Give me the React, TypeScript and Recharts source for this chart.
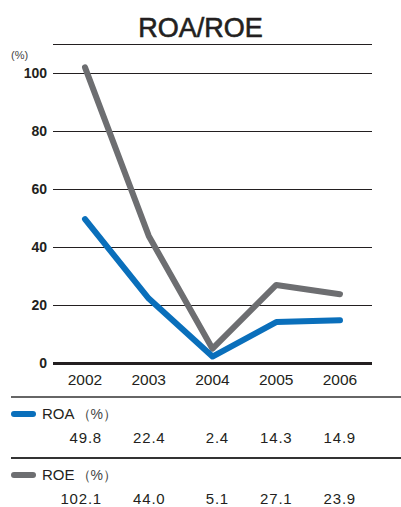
import React from "react";
import {
  LineChart,
  Line,
  XAxis,
  YAxis,
  CartesianGrid,
  ReferenceLine,
} from "recharts";

const years = ["2002", "2003", "2004", "2005", "2006"];
const roaValues = [49.8, 22.4, 2.4, 14.3, 14.9];
const roeValues = [102.1, 44.0, 5.1, 27.1, 23.9];
const yTicks = [0, 20, 40, 60, 80, 100];

const ROA_COLOR = "#0a6fbb";
const ROE_COLOR = "#6d6e71";
const FONT = '"Liberation Sans", Arial, Helvetica, sans-serif';

const data = years.map((year, i) => ({
  year,
  roa: roaValues[i],
  roe: roeValues[i],
}));

const rows = [
  { name: "ROA", color: ROA_COLOR, values: roaValues, top: 400 },
  { name: "ROE", color: ROE_COLOR, values: roeValues, top: 461 },
];

const fmt = (v: number) => v.toFixed(1);

export default function App() {
  return (
    <div
      style={{
        position: "absolute",
        left: 0,
        top: 0,
        width: 401,
        height: 507,
        fontFamily: FONT,
        color: "#231f20",
        background: "#fff",
      }}
    >
      <div
        style={{
          position: "absolute",
          top: 13,
          width: 401,
          textAlign: "center",
          fontSize: 27,
          fontWeight: "normal",
          WebkitTextStroke: "0.6px #231f20",
        }}
      >
        ROA/ROE
      </div>
      <div style={{ position: "absolute", left: 11, top: 49, fontSize: 11, color: "#444" }}>
        (%)
      </div>

      <LineChart
        width={401}
        height={507}
        data={data}
        margin={{ top: 44.5, right: 29, bottom: 113.5, left: 8 }}
      >
        <CartesianGrid horizontal vertical={false} stroke="#231f20" strokeWidth={1} />
        <XAxis
          dataKey="year"
          axisLine={false}
          tickLine={false}
          height={30}
          tickMargin={4}
          padding={{ left: 32, right: 32 }}
          tick={{ fill: "#231f20", fontSize: 15.5, fontFamily: FONT }}
        />
        <YAxis
          width={45}
          domain={[0, 110]}
          ticks={yTicks}
          axisLine={false}
          tickLine={false}
          tickMargin={0}
          tick={{ fill: "#231f20", fontSize: 14, fontWeight: "bold", fontFamily: FONT }}
        />
        <ReferenceLine y={0} stroke="#231f20" strokeWidth={3} />
        <Line
          dataKey="roe"
          stroke={ROE_COLOR}
          strokeWidth={6}
          strokeLinecap="round"
          strokeLinejoin="round"
          dot={false}
          isAnimationActive={false}
        />
        <Line
          dataKey="roa"
          stroke={ROA_COLOR}
          strokeWidth={6}
          strokeLinecap="round"
          strokeLinejoin="round"
          dot={false}
          isAnimationActive={false}
        />
      </LineChart>

      {rows.map((row) => (
        <div key={row.name}>
          <div
            style={{
              position: "absolute",
              left: 11,
              top: row.top - 4,
              width: 390,
              height: 2,
              background: row.name === "ROA" ? "#666" : "#333",
            }}
          />
          <div
            style={{
              position: "absolute",
              left: 11,
              top: row.top + 11,
              width: 25,
              height: 6,
              borderRadius: 3,
              background: row.color,
            }}
          />
          <div
            style={{
              position: "absolute",
              left: 42,
              top: row.top + 5,
              fontSize: 15,
              lineHeight: "18px",
            }}
          >
            {row.name}
            <span style={{ fontSize: 14, color: "#444", marginLeft: 2 }}>（%）</span>
          </div>
          {row.values.map((v, i) => (
            <div
              key={i}
              style={{
                position: "absolute",
                left: 42 + i * 63.5,
                width: 60,
                top: row.top + 31,
                textAlign: "right",
                fontSize: 15,
                letterSpacing: 0.8,
                lineHeight: "14px",
              }}
            >
              {fmt(v)}
            </div>
          ))}
        </div>
      ))}
    </div>
  );
}
